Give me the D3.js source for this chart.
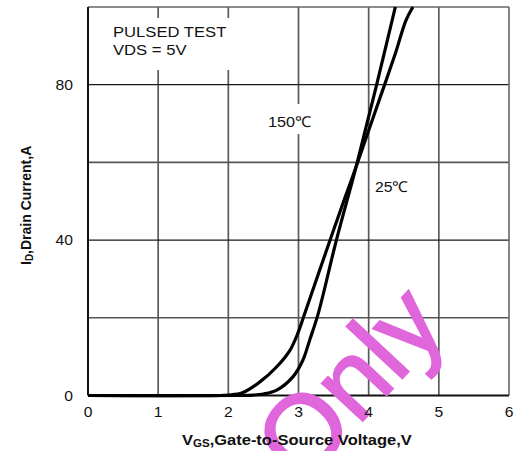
<!DOCTYPE html>
<html>
<head>
<meta charset="utf-8">
<script src="https://cdn.jsdelivr.net/npm/d3@7"></script>
<style>
    html, body { margin: 0; padding: 0; background: #fff; }
    svg { display: block; }
</style>
</head>
<body>
<div id="svgcontainer"></div>
<script>
// transfer curves (VGS in V, ID in A)
const vgs150 = [0, 1.9, 2.0, 2.2, 2.45, 2.69, 2.88, 2.99, 3.10, 3.45, 3.65, 3.82, 4.0, 4.2, 4.38, 4.53, 4.63]
const id150 = [0, 0, 0.1, 0.7, 3.5, 7.4, 11.7, 16, 21.7, 40, 50.3, 58.8, 68.2, 78.6, 88, 96.5, 100]
const vgs25 = [0, 2.2, 2.35, 2.5, 2.69, 2.92, 3.06, 3.16, 3.28, 3.54, 3.82, 4.10, 4.38]
const id25 = [0, 0, 0.1, 0.4, 1.4, 4.8, 9, 14.3, 21, 40, 58.8, 79, 100]

const xTicks = [0, 1, 2, 3, 4, 5, 6]
const yGrid = [20, 40, 60, 80]
const yTickLabels = [0, 40, 80]

const WIDTH = 513
const HEIGHT = 451
const FONT = "'Liberation Sans', Arial, sans-serif"

const x = d3.scaleLinear().domain([0, 6]).range([88, 509])
const y = d3.scaleLinear().domain([0, 100]).range([395.5, 7])

const svg = d3.select("#svgcontainer")
    .append("svg")
    .attr("width", WIDTH)
    .attr("height", HEIGHT)
    .attr("viewBox", [0, 0, WIDTH, HEIGHT])

// grid
svg.append("g")
    .selectAll("line")
    .data(xTicks.slice(1, -1))
    .join("line")
        .attr("x1", d => x(d))
        .attr("x2", d => x(d))
        .attr("y1", y(100))
        .attr("y2", y(0))
        .attr("stroke", "#5a5a5a")
        .attr("stroke-width", 1.7)

svg.append("g")
    .selectAll("line")
    .data(yGrid)
    .join("line")
        .attr("x1", x(0))
        .attr("x2", x(6))
        .attr("y1", d => y(d))
        .attr("y2", d => y(d))
        .attr("stroke", d => d % 40 === 0 ? "#1a1a1a" : "#555")
        .attr("stroke-width", d => d % 40 === 0 ? 1.2 : 1.6)

// frame
svg.append("line")
    .attr("x1", x(0)).attr("x2", x(6)).attr("y1", y(100)).attr("y2", y(100))
    .attr("stroke", "#666").attr("stroke-width", 1.6)
svg.append("line")
    .attr("x1", x(6)).attr("x2", x(6)).attr("y1", y(100)).attr("y2", y(0))
    .attr("stroke", "#666").attr("stroke-width", 1.6)
svg.append("line")
    .attr("x1", x(0)).attr("x2", x(0)).attr("y1", y(100)).attr("y2", y(0))
    .attr("stroke", "#111").attr("stroke-width", 2)
svg.append("line")
    .attr("x1", x(0)).attr("x2", x(6)).attr("y1", y(0)).attr("y2", y(0))
    .attr("stroke", "#111").attr("stroke-width", 2.2)

// white boxes behind the in-plot notes so grid lines break like the original
function noteBox(x0, y0, w, h) {
    svg.append("rect")
        .attr("x", x0).attr("y", y0).attr("width", w).attr("height", h)
        .attr("fill", "#fff")
}
noteBox(100, 18, 140, 52)
noteBox(266, 104, 50, 30)

// the scan is a little stretched sideways, so text gets a small x scale
function note(text, px, py, size, sx) {
    svg.append("text")
        .attr("transform", `translate(${px} ${py}) scale(${sx} 1)`)
        .attr("font-family", FONT)
        .attr("font-size", size)
        .attr("fill", "#111")
        .text(text)
}
note("PULSED TEST", 113, 37, 15, 1.11)
note("VDS = 5V", 113, 55, 15, 1.11)
note("150\u2103", 268, 127, 15, 1.08)
note("25\u2103", 375, 192, 15, 1.05)

// curves
let line = d3.line()
    .x(d => x(d[0]))
    .y(d => y(d[1]))
    .curve(d3.curveCatmullRom.alpha(0.5))

let series = [
    d3.zip(vgs150, id150),
    d3.zip(vgs25, id25)
]

svg.append("g")
    .selectAll("path")
    .data(series)
    .join("path")
        .attr("d", line)
        .attr("fill", "none")
        .attr("stroke", "#000")
        .attr("stroke-width", 3.2)
        .attr("stroke-linejoin", "round")

// watermark, under the tick labels and title like in the scan
svg.append("text")
    .attr("transform", "translate(302 486) rotate(-47)")
    .attr("font-family", FONT)
    .attr("font-size", 105)
    .attr("fill", "#e066dc")
    .attr("stroke", "#e066dc")
    .attr("stroke-width", 2)
    .text("Only")

// tick labels
svg.append("g")
    .selectAll("text")
    .data(xTicks)
    .join("text")
        .attr("transform", d => `translate(${x(d)} 417) scale(1.12 1)`)
        .attr("text-anchor", "middle")
        .attr("font-family", FONT)
        .attr("font-size", 14)
        .attr("fill", "#111")
        .text(d => d)

svg.append("g")
    .selectAll("text")
    .data(yTickLabels)
    .join("text")
        .attr("transform", d => `translate(73 ${y(d) + 5}) scale(1.12 1)`)
        .attr("text-anchor", "end")
        .attr("font-family", FONT)
        .attr("font-size", 14)
        .attr("fill", "#111")
        .text(d => d)

// axis titles
let xTitle = svg.append("text")
    .attr("transform", "translate(182 445) scale(1.1 1)")
    .attr("font-family", FONT)
    .attr("font-size", 15)
    .attr("font-weight", "bold")
    .attr("fill", "#111")
xTitle.append("tspan").text("V")
xTitle.append("tspan").attr("font-size", 10.5).attr("dy", 2).text("GS")
xTitle.append("tspan").attr("dy", -2).text(",Gate-to-Source Voltage,V")

let yTitle = svg.append("text")
    .attr("transform", "translate(31 265) rotate(-90)")
    .attr("font-family", FONT)
    .attr("font-size", 14)
    .attr("font-weight", "bold")
    .attr("fill", "#111")
yTitle.append("tspan").text("I")
yTitle.append("tspan").attr("font-size", 10).attr("dy", 2).text("D")
yTitle.append("tspan").attr("dy", -2).text(",Drain Current,A")
</script>
</body>
</html>
